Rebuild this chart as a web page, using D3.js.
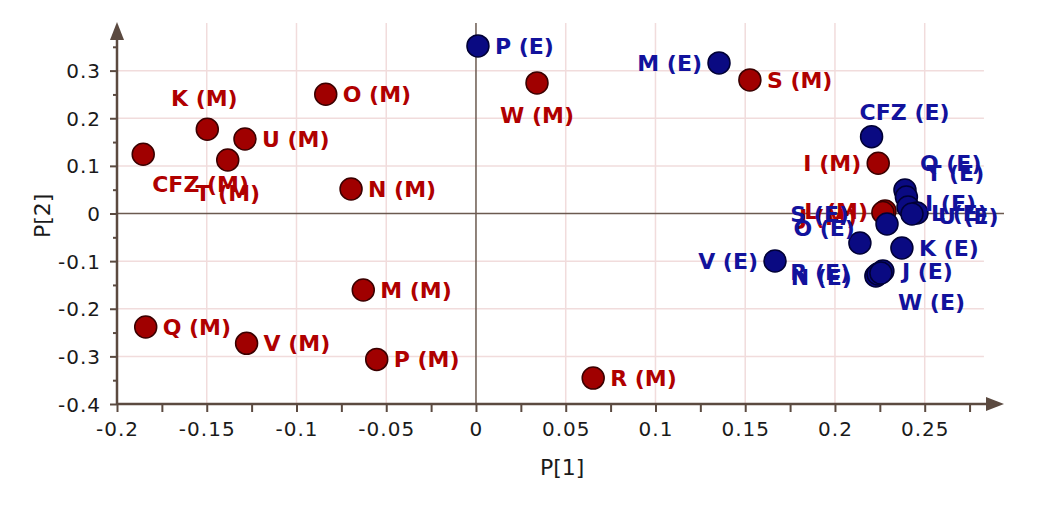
<!DOCTYPE html>
<html>
<head>
<meta charset="utf-8">
<script src="https://cdn.jsdelivr.net/npm/d3@7"></script>
<style>
  body { margin: 0; background: #fff; }
  text { font-family: 'DejaVu Sans', sans-serif; }
  .tick-label { font-size: 20px; fill: #1a1a1a; letter-spacing: 1px; }
  .axis-title { font-size: 22px; fill: #1a1a1a; }
  .pt-label { font-size: 22px; font-weight: bold; }
</style>
</head>
<body>
<div id="container"></div>
<script>
// M samples (red)
var mNames = ['K', 'CFZ', 'T', 'U', 'O', 'N', 'M', 'Q', 'V', 'P', 'W', 'S', 'R', 'I', 'L', 'J'],
    mP1 = [-0.1497, -0.1854, -0.1383, -0.1287, -0.0837, -0.0696, -0.0628, -0.1840, -0.1278, -0.0553, 0.0340, 0.1526, 0.0653, 0.2241, 0.2279, 0.2267],
    mP2 = [0.1769, 0.1244, 0.1124, 0.1565, 0.2504, 0.0515, -0.1607, -0.2384, -0.2727, -0.3063, 0.2742, 0.2805, -0.3456, 0.1055, 0.0053, 0.0021];

// E samples (blue)
var eNames = ['P', 'M', 'CFZ', 'Q', 'T', 'I', 'L', 'U', 'S', 'O', 'K', 'V', 'N', 'R', 'J', 'W'],
    eP1 = [0.0011, 0.1354, 0.2204, 0.2390, 0.2398, 0.2407, 0.2457, 0.2429, 0.2290, 0.2139, 0.2373, 0.1666, 0.2228, 0.2240, 0.2267, 0.2256],
    eP2 = [0.3519, 0.3162, 0.1613, 0.0494, 0.0347, 0.0137, 0.0011, -0.0011, -0.0220, -0.0620, -0.0725, -0.0998, -0.1313, -0.1271, -0.1208, -0.1250];

var xTicks = [-0.2, -0.15, -0.1, -0.05, 0, 0.05, 0.1, 0.15, 0.2, 0.25],
    yTicks = [-0.4, -0.3, -0.2, -0.1, 0, 0.1, 0.2, 0.3];

// label placement: [anchor, dx, dy]
var mLabelPos = {
    'K': ['middle', -3, -31], 'CFZ': ['start', 9, 30], 'T': ['middle', 0, 33],
    'W': ['middle', 0, 32], 'I': ['end', -17, 0], 'L': ['end', -17, 0], 'J': ['end', -26, 5]
};
var eLabelPos = {
    'M': ['end', -17, 0], 'CFZ': ['middle', 33, -25], 'Q': ['start', 15, -27], 'T': ['start', 20, -24],
    'I': ['start', 17, -4], 'L': ['start', 14, 0], 'U': ['start', 26, 2], 'S': ['end', -38, -10],
    'O': ['end', -5, -15], 'V': ['end', -17, 0], 'N': ['end', -24, 1], 'R': ['end', -28, -2],
    'J': ['start', 19, 0], 'W': ['start', 17, 29]
};

var width = 1050, height = 520;

var svg = d3.select('#container').append('svg')
    .attr('width', width)
    .attr('height', height);

var x = d3.scaleLinear().domain([-0.2, 0.29]).range([117, 996.5]),
    y = d3.scaleLinear().domain([-0.4, 0.4]).range([404, 23]);

var axisColor = '#5b4a40', gridColor = '#f1dcdc';
var isMajor = (ticks, d) => ticks.some(t => Math.abs(t - d) < 1e-9);

// Grid
svg.append('g').selectAll('line')
    .data(xTicks.filter(d => d !== 0 && d !== -0.2))
    .enter().append('line')
    .attr('x1', d => x(d)).attr('x2', d => x(d))
    .attr('y1', y(0.4)).attr('y2', y(-0.4))
    .attr('stroke', gridColor).attr('stroke-width', 1.5);

svg.append('g').selectAll('line')
    .data(yTicks.filter(d => d !== 0 && d !== -0.4))
    .enter().append('line')
    .attr('x1', x(-0.2)).attr('x2', x(0.283))
    .attr('y1', d => y(d)).attr('y2', d => y(d))
    .attr('stroke', gridColor).attr('stroke-width', 1.5);

// Zero lines
svg.append('line')
    .attr('x1', x(0)).attr('x2', x(0))
    .attr('y1', y(0.4)).attr('y2', y(-0.4))
    .attr('stroke', '#6b5a50').attr('stroke-width', 1.5);
svg.append('line')
    .attr('x1', x(-0.2)).attr('x2', 1004)
    .attr('y1', y(0)).attr('y2', y(0))
    .attr('stroke', '#6b5a50').attr('stroke-width', 1.5);

// Axes
var xAxis = d3.axisBottom(x)
    .tickValues(d3.range(-0.2, 0.29, 0.025).map(d => +d.toFixed(3)))
    .tickSize(8)
    .tickFormat(d => isMajor(xTicks, d) ? String(d) : '');

var gx = svg.append('g')
    .attr('transform', 'translate(0,' + y(-0.4) + ')')
    .call(xAxis);
gx.attr('font-size', null).attr('font-family', null);
gx.select('.domain').attr('d', 'M' + x(-0.2) + ',0H' + 990).attr('stroke', axisColor).attr('stroke-width', 2.5);
gx.selectAll('.tick line').attr('stroke', axisColor).attr('stroke-width', 2);
gx.selectAll('.tick text').attr('class', 'tick-label').attr('fill', null).attr('dy', '1.05em');

var yAxis = d3.axisLeft(y)
    .tickValues(d3.range(-0.4, 0.36, 0.05).map(d => +d.toFixed(3)))
    .tickSize(7)
    .tickFormat(d => isMajor(yTicks, d) ? String(d) : '');

var gy = svg.append('g')
    .attr('transform', 'translate(' + x(-0.2) + ',0)')
    .call(yAxis);
gy.attr('font-size', null).attr('font-family', null);
gy.select('.domain').attr('d', 'M0,' + y(-0.4) + 'V' + 36).attr('stroke', axisColor).attr('stroke-width', 2.5);
gy.selectAll('.tick line').attr('stroke', axisColor).attr('stroke-width', 2)
    .attr('x2', d => isMajor(yTicks, d) ? -7 : -4);
gy.selectAll('.tick text').attr('class', 'tick-label').attr('fill', null).attr('x', -16).attr('dy', '0.35em');

// Arrow heads
svg.append('path')
    .attr('d', 'M' + 1004 + ',' + y(-0.4) + 'l-18,-7v14z')
    .attr('fill', axisColor);
svg.append('path')
    .attr('d', 'M' + x(-0.2) + ',22l-7,18h14z')
    .attr('fill', axisColor);

// Titles
svg.append('text').attr('class', 'axis-title')
    .attr('x', x(0.048)).attr('y', 467).attr('dy', '0.35em')
    .attr('text-anchor', 'middle').text('P[1]');
svg.append('text').attr('class', 'axis-title')
    .attr('transform', 'translate(42,' + y(-0.005) + ') rotate(-90)')
    .attr('dy', '0.35em').attr('text-anchor', 'middle').text('P[2]');

// Points
function series(names, p1, p2, suffix, fill, stroke, labelColor, pos) {
    var data = names.map((n, i) => ({ name: n, p1: p1[i], p2: p2[i], label: n + ' (' + suffix + ')', pos: pos[n] || ['start', 17, 0] }));
    svg.append('g').selectAll('circle')
        .data(data)
        .enter().append('circle')
        .attr('cx', d => x(d.p1))
        .attr('cy', d => y(d.p2))
        .attr('r', 11)
        .attr('fill', fill)
        .attr('stroke', stroke)
        .attr('stroke-width', 1.5);
    return { data: data, color: labelColor };
}

var mSet = series(mNames, mP1, mP2, 'M', '#a00000', '#3a0000', '#b00000', mLabelPos),
    eSet = series(eNames, eP1, eP2, 'E', '#0a0a82', '#000035', '#12129c', eLabelPos);

[mSet, eSet].forEach(s => {
    svg.append('g').selectAll('text')
        .data(s.data)
        .enter().append('text')
        .attr('class', 'pt-label')
        .attr('x', d => x(d.p1) + d.pos[1])
        .attr('y', d => y(d.p2) + d.pos[2])
        .attr('dy', '0.36em')
        .attr('text-anchor', d => d.pos[0])
        .attr('fill', s.color)
        .text(d => d.label);
});
</script>
</body>
</html>
